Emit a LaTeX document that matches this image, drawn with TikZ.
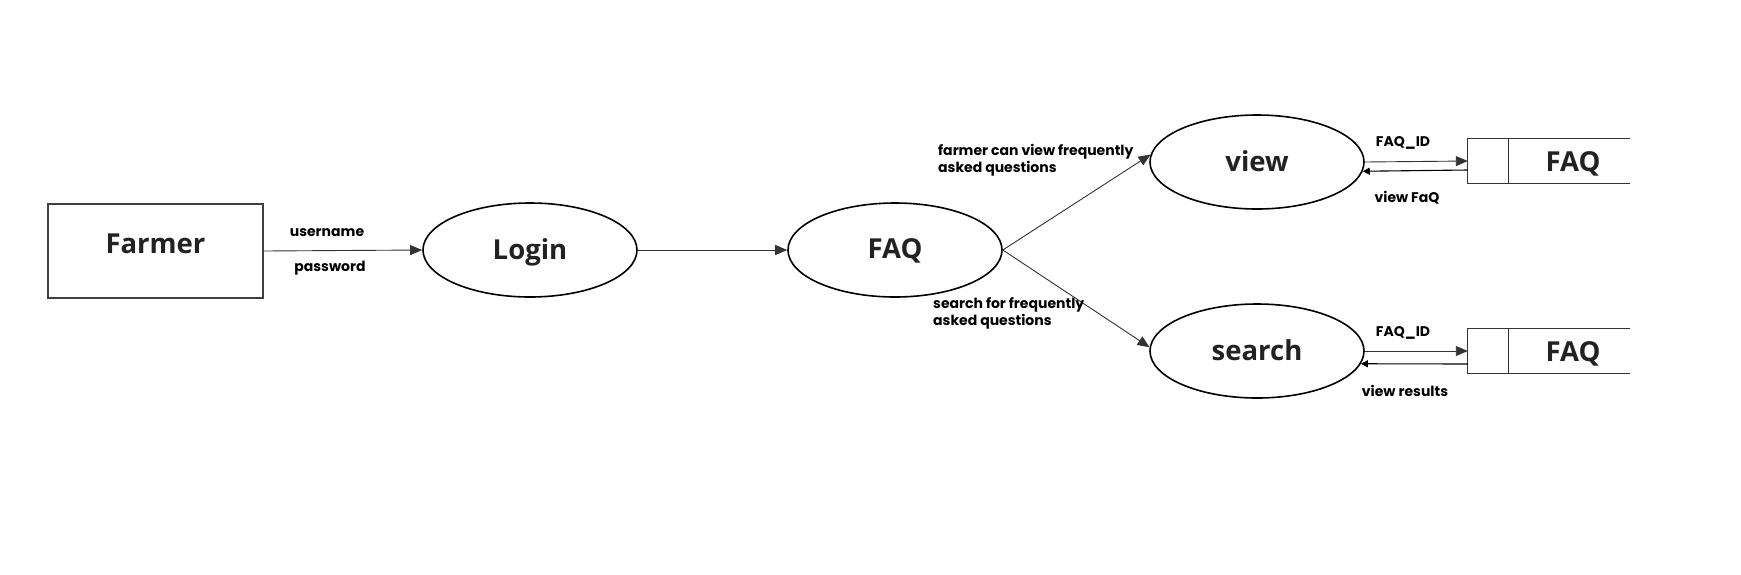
\documentclass[tikz,border=0pt]{standalone}
\usepackage{fontspec}
\setmainfont{Open Sans}
\newfontfamily\labfont{Poppins}
\usetikzlibrary{arrows.meta,calc,shapes.geometric}
\definecolor{ink}{HTML}{222222}
\definecolor{wire}{HTML}{333333}
\tikzset{
  proc/.style={ellipse,draw=black,line width=1.6pt,minimum width=214pt,minimum height=94pt,inner sep=0pt,text=ink,font=\fontsize{27.5}{30}\selectfont\bfseries,text height=18pt,text depth=0pt},
  entity/.style={rectangle,draw=black!75,line width=1.6pt,minimum width=215pt,minimum height=94pt,inner sep=0pt,text=ink,font=\fontsize{27.5}{30}\selectfont\bfseries,text height=4pt,text depth=0pt},
  storebox/.style={rectangle,minimum width=162pt,minimum height=44pt,inner sep=0pt},
  storeline/.style={draw=black!80,line width=1.3pt},
  title/.style={text=ink,font=\fontsize{27.5}{30}\selectfont\bfseries,inner sep=0pt,anchor=base},
  flow/.style={draw=wire,line width=0.9pt,-{Triangle[length=12pt,width=10pt]}},
  backflow/.style={draw=black,line width=1.1pt,-{Triangle[length=7pt,width=7pt]}},
  lab/.style={font=\labfont\fontsize{14}{17}\selectfont\bfseries,text=black,inner sep=0pt,align=left}
}
\begin{document}
\begin{tikzpicture}[x=1pt,y=-1pt]
\useasboundingbox[fill=white] (0,0) rectangle (1741,574);
\node[entity] (farmer) at (155.5,251) {Farmer};
\node[proc] (login) at (530,250) {Login};
\node[proc,text height=17pt] (faq) at (895,250) {FAQ};
\node[proc] (view) at (1257,162) {view};
\node[proc] (search) at (1257,351) {search};
\node[storebox] (s1) at (1549,161) {};
\node[storebox] (s2) at (1549,351) {};
\foreach \s in {s1,s2}{
  \draw[storeline] (\s.north east) -- (\s.north west) -- (\s.south west) -- (\s.south east);
  \draw[storeline] ($(\s.north west)+(41,0)$) -- ($(\s.south west)+(41,0)$);
}
\node[title] (t1) at (1573,171) {FAQ};
\node[title] (t2) at (1573,361) {FAQ};

\draw[flow] (farmer.east) -- (login.west);
\draw[flow] (login.east) -- (faq.west);
\draw[flow] (faq.east) -- (view.176);
\draw[flow] (faq.east) -- (search.178);
\draw[flow] (view.east) -- (s1.west);
\draw[backflow] ($(s1.west)+(0,9)$) -- (view.-5);
\draw[flow] (search.east) -- (s2.west);
\draw[backflow] ($(s2.west)+(0,13)$) -- (search.-7);

\node[lab] (u) at (327,233) {username};
\node[lab] (p) at (330,268) {password};
\node[lab,anchor=west] (l1) at (938,160) {farmer can view frequently\\asked questions};
\node[lab,anchor=west] (l2) at (933,313.5) {search for frequently\\asked questions};
\node[lab] (id1) at (1403,143) {FAQ\_ID};
\node[lab] (vf) at (1407,198) {view FaQ};
\node[lab] (id2) at (1403,333) {FAQ\_ID};
\node[lab] (vr) at (1405,391) {view results};
\end{tikzpicture}
\end{document}
